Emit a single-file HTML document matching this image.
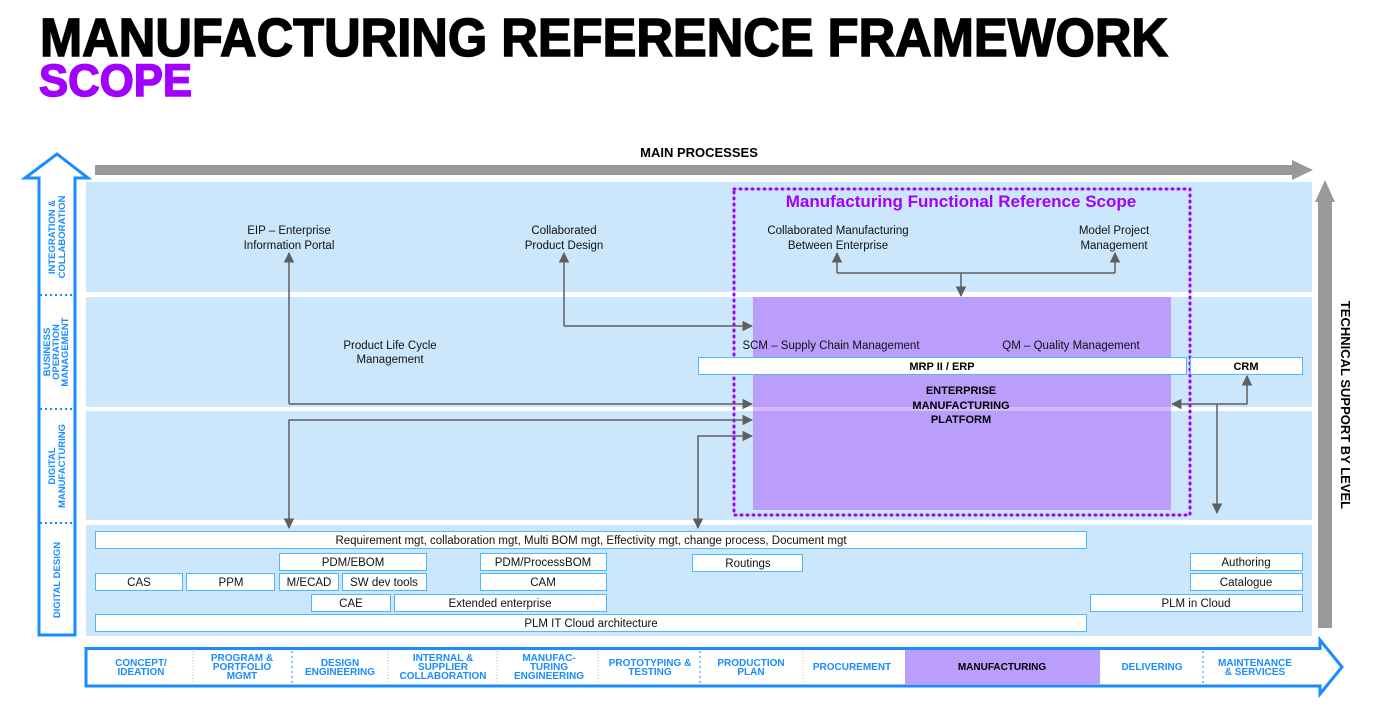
<!DOCTYPE html>
<html><head><meta charset="utf-8"><style>
body{margin:0;background:#fff}
svg text{font-family:"Liberation Sans",sans-serif}
</style></head><body>
<svg width="1387" height="707" viewBox="0 0 1387 707" xmlns="http://www.w3.org/2000/svg">
<defs>
<marker id="ah" viewBox="0 0 10 10" refX="9" refY="5" markerWidth="7" markerHeight="7" orient="auto-start-reverse"><path d="M0,0L10,5L0,10z" fill="#5f5f5f"/></marker>
</defs>
<text x="40" y="56" font-size="54" font-weight="bold" fill="#000" stroke="#000" stroke-width="1.5" textLength="1128" lengthAdjust="spacingAndGlyphs">MANUFACTURING REFERENCE FRAMEWORK</text>
<text x="39" y="96" font-size="45" font-weight="bold" fill="#a100ff" stroke="#a100ff" stroke-width="1.5" textLength="153" lengthAdjust="spacingAndGlyphs">SCOPE</text>
<rect x="95" y="165" width="1200" height="10" fill="#999"/>
<path d="M1292,160L1313,170L1292,180z" fill="#999"/>
<text x="699" y="157" font-size="13" font-weight="bold" text-anchor="middle">MAIN PROCESSES</text>
<g fill="#cce7fb">
<rect x="86" y="182" width="1226" height="110"/>
<rect x="86" y="297" width="1226" height="110"/>
<rect x="86" y="411" width="1226" height="109"/>
<rect x="86" y="525" width="1226" height="111"/>
</g>
<path d="M39,635L39,178L25,178L57,154L88,178L75,178L75,635z" fill="#fff" stroke="#1a8cff" stroke-width="3"/>
<g stroke="#1a8cff" stroke-width="2" stroke-dasharray="2,3">
<line x1="40" y1="295" x2="74" y2="295"/><line x1="40" y1="409" x2="74" y2="409"/><line x1="40" y1="523" x2="74" y2="523"/>
</g>
<g fill="#1a8cff" font-size="9.5" font-weight="bold" text-anchor="middle">
<text transform="translate(57,237) rotate(-90)"><tspan x="0" y="-2">INTEGRATION &amp;</tspan><tspan x="0" y="8">COLLABORATION</tspan></text>
<text transform="translate(57,352) rotate(-90)"><tspan x="0" y="-7">BUSINESS</tspan><tspan x="0" y="2">OPERATION</tspan><tspan x="0" y="11">MANAGEMENT</tspan></text>
<text transform="translate(57,466) rotate(-90)"><tspan x="0" y="-2">DIGITAL</tspan><tspan x="0" y="8">MANUFACTURING</tspan></text>
<text transform="translate(60,580) rotate(-90)">DIGITAL DESIGN</text>
</g>
<rect x="753" y="297" width="418" height="213" fill="#bb9dfb"/>
<rect x="753" y="407" width="418" height="4" fill="#d8b8fb"/>
<rect x="734" y="189" width="456" height="326" fill="none" stroke="#a100ff" stroke-width="3" stroke-dasharray="1,5" stroke-linecap="round"/>
<text x="961" y="207" font-size="17" font-weight="bold" fill="#a100ff" text-anchor="middle">Manufacturing Functional Reference Scope</text>
<g font-size="11.5" text-anchor="middle" fill="#111">
<text x="289" y="234">EIP – Enterprise</text><text x="289" y="249">Information Portal</text>
<text x="564" y="234">Collaborated</text><text x="564" y="249">Product Design</text>
<text x="838" y="234">Collaborated Manufacturing</text><text x="838" y="249">Between Enterprise</text>
<text x="1114" y="234">Model Project</text><text x="1114" y="249">Management</text>
<text x="390" y="349">Product Life Cycle</text><text x="390" y="363">Management</text>
<text x="831" y="349">SCM – Supply Chain Management</text>
<text x="1071" y="349">QM – Quality Management</text>
</g>
<g font-size="11" font-weight="bold" text-anchor="middle">
<text x="961" y="394">ENTERPRISE</text><text x="961" y="409">MANUFACTURING</text><text x="961" y="423">PLATFORM</text>
</g>
<rect x="698.5" y="357.5" width="488" height="17" fill="#fff" stroke="#4db8ff"/>
<rect x="1190.5" y="357.5" width="112" height="17" fill="#fff" stroke="#4db8ff"/>
<text x="942" y="370" font-size="11" font-weight="bold" text-anchor="middle">MRP II / ERP</text>
<text x="1246" y="370" font-size="11" font-weight="bold" text-anchor="middle">CRM</text>
<g stroke="#5f5f5f" stroke-width="1.5" fill="none">
<path d="M289,404V253" marker-end="url(#ah)"/>
<path d="M289,404H752" marker-end="url(#ah)"/>
<path d="M564,326V253" marker-end="url(#ah)"/>
<path d="M564,326H752" marker-end="url(#ah)"/>
<path d="M837,273V253" marker-end="url(#ah)"/>
<path d="M1115,273V253" marker-end="url(#ah)"/>
<path d="M837,273H1115"/>
<path d="M961,273V296" marker-end="url(#ah)"/>
<path d="M752,420H289V528" marker-start="url(#ah)" marker-end="url(#ah)"/>
<path d="M752,436H698V528" marker-start="url(#ah)" marker-end="url(#ah)"/>
<path d="M1172,404H1247V376" marker-start="url(#ah)" marker-end="url(#ah)"/>
<path d="M1217,404V513" marker-end="url(#ah)"/>
</g>
<g fill="#fff" stroke="#4db8ff">
<rect x="95.5" y="531.5" width="991" height="17"/>
<rect x="279.5" y="553.5" width="147" height="17"/>
<rect x="480.5" y="553.5" width="126" height="17"/>
<rect x="692.5" y="554.5" width="110" height="17"/>
<rect x="1190.5" y="553.5" width="112" height="17"/>
<rect x="95.5" y="573.5" width="87" height="17"/>
<rect x="186.5" y="573.5" width="88" height="17"/>
<rect x="279.5" y="573.5" width="59" height="17"/>
<rect x="342.5" y="573.5" width="84" height="17"/>
<rect x="480.5" y="573.5" width="126" height="17"/>
<rect x="1190.5" y="573.5" width="112" height="17"/>
<rect x="311.5" y="594.5" width="79" height="17"/>
<rect x="394.5" y="594.5" width="212" height="17"/>
<rect x="1090.5" y="594.5" width="212" height="17"/>
<rect x="95.5" y="614.5" width="991" height="17"/>
</g>
<g font-size="11.5" text-anchor="middle" fill="#111">
<text x="591" y="544">Requirement mgt, collaboration mgt, Multi BOM mgt, Effectivity mgt, change process, Document mgt</text>
<text x="353" y="566">PDM/EBOM</text><text x="543" y="566">PDM/ProcessBOM</text><text x="748" y="567">Routings</text><text x="1246" y="566">Authoring</text>
<text x="139" y="586">CAS</text><text x="231" y="586">PPM</text><text x="309" y="586">M/ECAD</text><text x="384" y="586">SW dev tools</text><text x="543" y="586">CAM</text><text x="1246" y="586">Catalogue</text>
<text x="351" y="607">CAE</text><text x="500" y="607">Extended enterprise</text><text x="1196" y="607">PLM in Cloud</text>
<text x="591" y="627">PLM IT Cloud architecture</text>
</g>
<rect x="1318" y="200" width="14" height="428" fill="#999"/>
<path d="M1315,202L1325,180L1335,202z" fill="#999"/>
<text transform="translate(1341,405) rotate(90)" font-size="13" font-weight="bold" text-anchor="middle">TECHNICAL SUPPORT BY LEVEL</text>
<path d="M86,648.5H1320V640L1342,667L1320,694V686H86z" fill="#fff" stroke="#1a8cff" stroke-width="3"/>
<rect x="905" y="650" width="195" height="35" fill="#bb9dfb"/>
<g stroke="#bbb" stroke-dasharray="1,2"><line x1="193" y1="651" x2="193" y2="684"/><line x1="388" y1="651" x2="388" y2="684"/><line x1="497" y1="651" x2="497" y2="684"/><line x1="598" y1="651" x2="598" y2="684"/><line x1="803" y1="651" x2="803" y2="684"/><line x1="1100" y1="651" x2="1100" y2="684"/></g>
<g stroke="#1a8cff" stroke-dasharray="2,3"><line x1="292" y1="651" x2="292" y2="684"/><line x1="700" y1="651" x2="700" y2="684"/><line x1="1203" y1="651" x2="1203" y2="684"/></g>
<g font-size="10" font-weight="bold" fill="#1a8cff" text-anchor="middle">
<text x="141" y="666">CONCEPT/</text><text x="141" y="675">IDEATION</text>
<text x="242" y="661">PROGRAM &amp;</text><text x="242" y="670">PORTFOLIO</text><text x="242" y="679">MGMT</text>
<text x="340" y="666">DESIGN</text><text x="340" y="675">ENGINEERING</text>
<text x="443" y="661">INTERNAL &amp;</text><text x="443" y="670">SUPPLIER</text><text x="443" y="679">COLLABORATION</text>
<text x="549" y="661">MANUFAC-</text><text x="549" y="670">TURING</text><text x="549" y="679">ENGINEERING</text>
<text x="650" y="666">PROTOTYPING &amp;</text><text x="650" y="675">TESTING</text>
<text x="751" y="666">PRODUCTION</text><text x="751" y="675">PLAN</text>
<text x="852" y="670">PROCUREMENT</text>
<text x="1002" y="670" fill="#000">MANUFACTURING</text>
<text x="1152" y="670">DELIVERING</text>
<text x="1255" y="666">MAINTENANCE</text><text x="1255" y="675">&amp; SERVICES</text>
</g>
</svg>
</body></html>
